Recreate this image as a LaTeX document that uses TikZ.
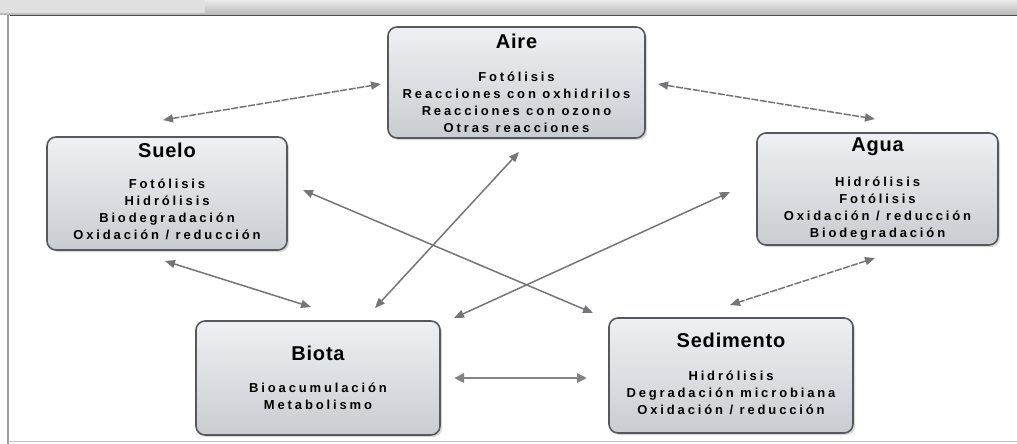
\documentclass[tikz,border=0pt]{standalone}
\usepackage{fontspec}
\setmainfont{Liberation Sans}
\newfontfamily\bodyfont{Liberation Sans}[LetterSpace=22]
\newfontfamily\titlefont{Liberation Sans}[LetterSpace=4]
\usetikzlibrary{arrows.meta,shadows}
\definecolor{boxborder}{HTML}{55595D}
\definecolor{boxtop}{HTML}{EEF0F3}
\definecolor{boxbot}{HTML}{C9CDD2}
\definecolor{arrowc}{HTML}{737578}
\definecolor{framec}{HTML}{9A9C9E}
\tikzset{
  envbox/.style={draw=boxborder, line width=1.6pt, rounded corners=9pt,
    top color=boxtop, bottom color=boxbot,
    drop shadow={shadow xshift=2pt, shadow yshift=-2pt, fill=black!30}},
  ttl/.style={font=\titlefont\bfseries\fontsize{20}{22}\selectfont, text=black, inner sep=0pt},
  bodytxt/.style={font=\bodyfont\bfseries\fontsize{13}{17}\selectfont, text=black,
    align=center, inner sep=0pt, anchor=north},
  conn/.style={draw=arrowc, line width=1.5pt,
    {Triangle[length=10pt,width=8pt]}-{Triangle[length=10pt,width=8pt]}},
  connd/.style={conn, dash pattern=on 7pt off 1.5pt},
  connthick/.style={draw=arrowc!90, line width=2.8pt,
    {Triangle[length=10pt,width=9pt]}-{Triangle[length=10pt,width=9pt]}}
}
\begin{document}
\begin{tikzpicture}[x=1pt,y=-1pt]
\useasboundingbox (0,0) rectangle (1017,444);
\fill[white] (0,0) rectangle (1017,444);
% frame
\shade[top color=black!8, bottom color=black!28] (0,0) rectangle (1017,15);
\fill[black!12] (0,0) rectangle (205,13);
\draw[black!70, line width=1.5pt] (10,15.5) -- (1017,15.5);
\draw[framec, line width=1.6pt] (8,15) -- (8,444);
\draw[black!25, line width=1pt] (8,441.5) -- (1017,441.5);
% boxes
\node[envbox, minimum width=257pt, minimum height=111pt] (aire) at (516.5,82.5) {};
\node[envbox, minimum width=240pt, minimum height=113pt] (suelo) at (167,193.5) {};
\node[envbox, minimum width=241pt, minimum height=112pt] (agua) at (877.5,189) {};
\node[envbox, minimum width=244pt, minimum height=114pt] (biota) at (318,378) {};
\node[envbox, minimum width=244pt, minimum height=115pt] (sedim) at (731,375.5) {};
% titles
\node[ttl] (airet) at (516.5,41) {Aire};
\node[ttl] (suelot) at (167,150) {Suelo};
\node[ttl] (aguat) at (877.5,147) {Agua};
\node[ttl] (biotat) at (318,353) {Biota};
\node[ttl] (sedimt) at (731,340) {Sedimento};
% bodies
\node[bodytxt] (aireb) at (516.5,72) {Fotólisis\\Reacciones con oxhidrilos\\Reacciones con ozono\\Otras reacciones};
\node[bodytxt] (suelob) at (167,179) {Fotólisis\\Hidrólisis\\Biodegradación\\Oxidación / reducción};
\node[bodytxt] (aguab) at (877.5,177) {Hidrólisis\\Fotólisis\\Oxidación / reducción\\Biodegradación};
\node[bodytxt] (biotab) at (318,383) {Bioacumulación\\Metabolismo};
\node[bodytxt] (sedimb) at (731,371) {Hidrólisis\\Degradación microbiana\\Oxidación / reducción};
% arrow end points
\coordinate (s1) at (163,120); \coordinate (a1) at (381,84);
\coordinate (a2) at (658,84);  \coordinate (g2) at (875,119);
\coordinate (a3) at (519,152); \coordinate (b3) at (375,308);
\coordinate (s4) at (303,190); \coordinate (d4) at (593,313);
\coordinate (g5) at (730,192); \coordinate (b5) at (454,318);
\coordinate (s6) at (165,261); \coordinate (b6) at (311,307);
\coordinate (g7) at (875,258); \coordinate (d7) at (730,305);
\coordinate (b8) at (454,378); \coordinate (d8) at (587,378);
% connectors
\draw[connd] (s1) -- (a1);
\draw[connd] (a2) -- (g2);
\draw[conn] (a3) -- (b3);
\draw[conn] (s4) -- (d4);
\draw[conn] (g5) -- (b5);
\draw[conn] (s6) -- (b6);
\draw[connd] (g7) -- (d7);
\draw[connthick] (b8) -- (d8);
\end{tikzpicture}
\end{document}
